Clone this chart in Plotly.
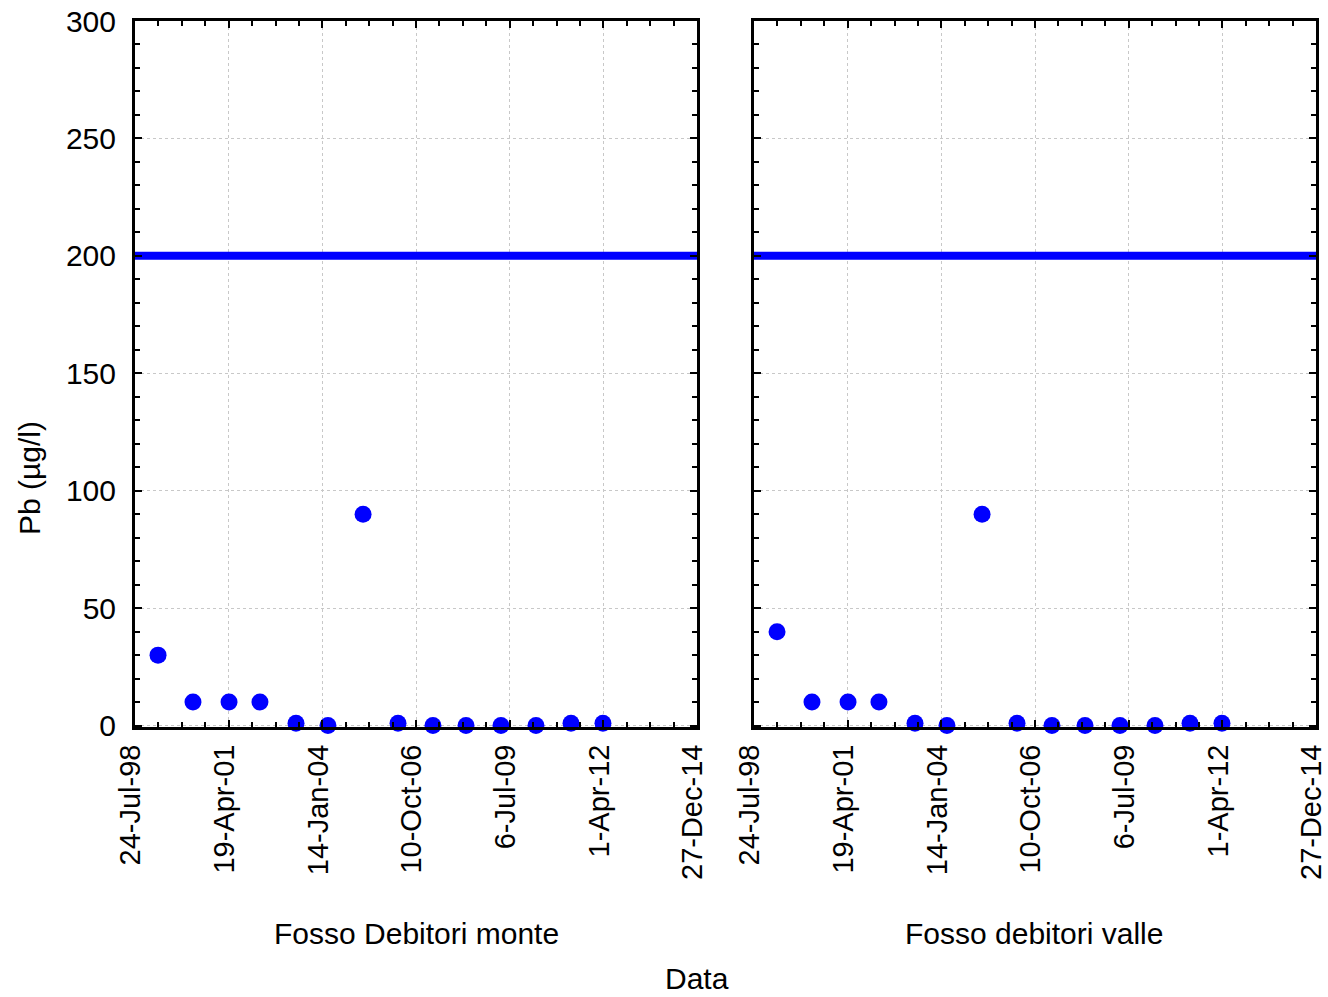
import plotly.graph_objects as go

# ---- data ----
sample_dates = ["1999-03-27", "2000-04-03", "2001-04-23", "2002-03-19", "2003-04-08",
                "2004-03-14", "2005-03-24", "2006-04-01", "2007-04-09", "2008-03-27",
                "2009-04-04", "2010-04-13", "2011-04-22", "2012-03-28"]
pb_monte = [30, 10, 10, 10, 1, 0, 90, 1, 0, 0, 0, 0, 1, 1]
pb_valle = [40, 10, 10, 10, 1, 0, 90, 1, 0, 0, 0, 0, 1, 1]
limit_value = 200
limit_dates = ["1998-07-24", "2014-12-27"]

x_tickvals = ["1998-07-24", "2001-04-19", "2004-01-14", "2006-10-10",
              "2009-07-06", "2012-04-01", "2014-12-27"]
x_ticktext = ["24-Jul-98", "19-Apr-01", "14-Jan-04", "10-Oct-06",
              "6-Jul-09", "1-Apr-12", "27-Dec-14"]
y_tickvals = [0, 50, 100, 150, 200, 250, 300]
panel_titles = ["Fosso Debitori monte", "Fosso debitori valle"]
x_title = "Data"
y_title = "Pb (µg/l)"

BLUE = "#0000FF"
FONT = "Liberation Sans, Arial, sans-serif"
FS = 30

fig = go.Figure()
for i, vals in enumerate([pb_monte, pb_valle]):
    xa = "x" if i == 0 else "x2"
    ya = "y" if i == 0 else "y2"
    fig.add_trace(go.Scatter(x=limit_dates, y=[limit_value, limit_value], mode="lines",
                             line=dict(color=BLUE, width=8), xaxis=xa, yaxis=ya,
                             cliponaxis=False, showlegend=False, hoverinfo="skip"))
    fig.add_trace(go.Scatter(x=sample_dates, y=vals, mode="markers",
                             marker=dict(color=BLUE, size=17, line=dict(width=0)),
                             xaxis=xa, yaxis=ya, cliponaxis=False, showlegend=False))

W, H = 1328, 997
ml, mr, mt, mb = 135, 12, 21, 270
pw = W - ml - mr
ph = H - mt - mb
panel_w = 562

xcommon = dict(type="date", range=[limit_dates[0], limit_dates[1]],
               tickmode="array", tickvals=x_tickvals, ticktext=x_ticktext,
               tickangle=-90, ticks="inside", ticklen=7, tickwidth=2, tickcolor="black",
               showline=True, linewidth=3, linecolor="black", mirror="ticks",
               showgrid=True, gridcolor="#c8c8c8", gridwidth=1, griddash="3px,3px",
               zeroline=False, ticklabelstandoff=3, ticklabelshift=-4,
               ticklabeloverflow="allow",
               tickfont=dict(family=FONT, size=29, color="black"),
               minor=dict(tick0="1998-07-24", dtick=250 * 86400000, ticks="inside",
                          ticklen=5, tickwidth=2, tickcolor="black", showgrid=False))
ycommon = dict(range=[-0.6, 300], tickmode="array", tickvals=y_tickvals,
               ticks="inside", ticklen=7, tickwidth=2, tickcolor="black",
               showline=True, linewidth=3, linecolor="black", mirror="ticks",
               showgrid=True, gridcolor="#c8c8c8", gridwidth=1, griddash="3px,3px",
               zeroline=False, ticklabelstandoff=10,
               tickfont=dict(family=FONT, size=FS, color="black"),
               minor=dict(dtick=10, ticks="inside", ticklen=5, tickwidth=2,
                          tickcolor="black", showgrid=False))

fig.update_layout(
    width=W, height=H,
    margin=dict(l=ml, r=mr, t=mt, b=mb, autoexpand=False),
    paper_bgcolor="white", plot_bgcolor="white",
    font=dict(family=FONT, size=FS, color="black"),
    xaxis=dict(domain=[0, panel_w / pw], anchor="y", **xcommon),
    xaxis2=dict(domain=[1 - panel_w / pw, 1], anchor="y2", **xcommon),
    yaxis=dict(domain=[0, 1], anchor="x", **ycommon),
    yaxis2=dict(domain=[0, 1], anchor="x2", showticklabels=False, **ycommon),
)

def px_to_paper_y(py):
    return (H - mb - py) / ph

def px_to_paper_x(pxv):
    return (pxv - ml) / pw

annotations = [
    dict(text=panel_titles[0], x=px_to_paper_x(416), y=px_to_paper_y(933)),
    dict(text=panel_titles[1], x=px_to_paper_x(1034), y=px_to_paper_y(933)),
    dict(text=x_title, x=px_to_paper_x(697), y=px_to_paper_y(979)),
    dict(text=y_title, x=px_to_paper_x(30), y=px_to_paper_y(478), textangle=-90),
]
for a in annotations:
    fig.add_annotation(xref="paper", yref="paper", showarrow=False,
                       xanchor="center", yanchor="middle",
                       font=dict(family=FONT, size=FS, color="black"), **a)

fig.write_html("out.html", config={"displayModeBar": False},
               post_script="document.body.style.margin='0';document.body.style.overflow='hidden';")
